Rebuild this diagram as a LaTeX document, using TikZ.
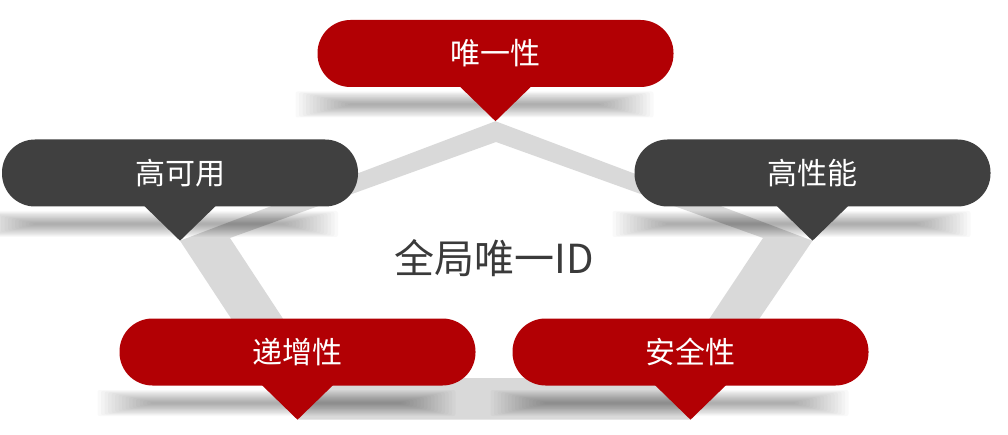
\documentclass[tikz,border=0pt]{standalone}
\usepackage{fontspec}
\newfontfamily\cjk{Noto Sans CJK SC}
\usetikzlibrary{calc,backgrounds}

\definecolor{tagred}{RGB}{178,0,4}
\definecolor{taggray}{RGB}{64,64,64}
\definecolor{bandgray}{RGB}{217,217,217}
\definecolor{idtext}{RGB}{58,58,58}

\tikzset{
    tag/.style={rounded corners=33pt, minimum width=356pt, minimum height=67pt,
        inner sep=0pt, text=white, font=\cjk\fontsize{30}{36}\selectfont},
    band/.style={fill=bandgray, even odd rule},
}

% callout with pointer and shadow: name, centre, colour, text
\newcommand{\Tag}[4]{
    \foreach \k in {0,...,15}
        \fill[black, opacity=0.022, rounded corners=2pt] ($(#2)+(-200+3.5*\k,38+0.8*\k)$) rectangle ($(#2)+(158-3.5*\k,64-0.8*\k)$);
    \node[tag, fill=#3] (#1) at (#2) {#4};
    \coordinate (#1-tip) at ([yshift=-34pt]#1.south);
    \fill[#3] ([xshift=-36pt,yshift=1pt]#1.south) -- (#1-tip) -- ([xshift=36pt,yshift=1pt]#1.south) -- cycle;
}

\begin{document}
\begin{tikzpicture}[x=1pt, y=-1pt]
    \useasboundingbox (0,0) rectangle (1008,435);

    % the five callouts
    \Tag{unique}{495.5,53.5}{tagred}{唯一性}
    \Tag{avail}{180,173}{taggray}{高可用}
    \Tag{perf}{812.5,173}{taggray}{高性能}
    \Tag{incr}{297.5,352}{tagred}{递增性}
    \Tag{safe}{690.5,352}{tagred}{安全性}

    \node[font=\cjk\fontsize{40}{48}\selectfont, text=idtext] (id) at (494,258) {全局唯一ID};

    % inner corners of the pentagon band
    \coordinate (in-top) at (496,142);
    \coordinate (in-left) at (230,238);
    \coordinate (in-right) at (763,238);
    \coordinate (in-bl) at (322,378);
    \coordinate (in-br) at (670,378);

    \begin{scope}[on background layer] % band from tip to tip
        \fill[band] (unique-tip) -- (avail-tip) -- (incr-tip) -- (safe-tip) -- (perf-tip) -- cycle
            (in-top) -- (in-left) -- (in-bl) -- (in-br) -- (in-right) -- cycle;
    \end{scope}
\end{tikzpicture}
\end{document}
